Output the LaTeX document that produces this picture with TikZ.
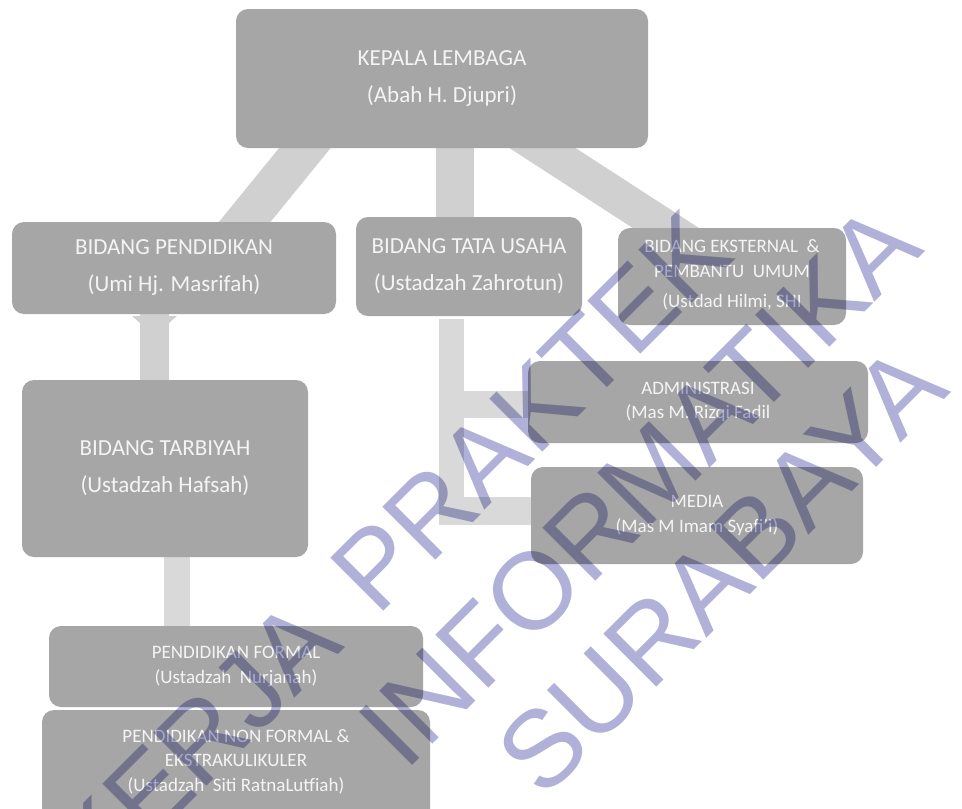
\documentclass[tikz,border=0pt]{standalone}
\usepackage{fontspec}
\setmainfont{Carlito}
\newfontfamily\wmfont{Liberation Sans}
\pgfdeclarelayer{bg}
\pgfdeclarelayer{bands}
\pgfdeclarelayer{wm}
\pgfsetlayers{bg,bands,main,wm}
\definecolor{boxgray}{HTML}{A6A6A6}
\definecolor{bandA}{HTML}{D0D0D0}
\definecolor{bandB}{HTML}{D9D9D9}
\definecolor{txtc}{HTML}{F4F4F4}
\definecolor{wmblue}{HTML}{B0B0D8}
\begin{document}
\begin{tikzpicture}[x=1pt,y=-1pt,
  box/.style={fill=boxgray, rounded corners=12pt, draw=none, text=txtc, align=center, inner sep=0pt},
  bigtxt/.style={font=\fontsize{23}{37}\selectfont},
  smalltxt/.style={font=\fontsize{19}{24.5}\selectfont},
  bandline/.style={line width=#1},
  wmtext/.style={text=wmblue, font=\wmfont\fontsize{109}{109}\selectfont, rotate=45, inner sep=0pt}
]
\path[use as bounding box] (0,0) rectangle (962,809);
\begin{pgfonlayer}{bg}
\fill[white] (0,0) rectangle (962,809);
\end{pgfonlayer}

% boxes
\node[box,bigtxt,minimum width=412pt,minimum height=139pt] (kepala) at (442,78.5) {KEPALA LEMBAGA\\(Abah H. Djupri)};
\node[box,bigtxt,minimum width=324pt,minimum height=92pt] (pend) at (174,268) {BIDANG PENDIDIKAN\\(Umi Hj. Masrifah)};
\node[box,bigtxt,minimum width=226pt,minimum height=99pt] (tata) at (469,266.5) {BIDANG TATA USAHA\\(Ustadzah Zahrotun)};
\node[box,minimum width=228pt,minimum height=97pt] (ekst) at (732,276.5) {};
\node[smalltxt,text=txtc,align=center,inner sep=0pt] (eksttxt) at (732,275) {BIDANG EKSTERNAL\ \ \&\\PEMBANTU\ \ UMUM\\[6pt](Ustdad Hilmi, SHI};
\node[box,bigtxt,minimum width=286pt,minimum height=177pt] (tarb) at (165,468.5) {BIDANG TARBIYAH\\(Ustadzah Hafsah)};
\node[box,smalltxt,minimum width=340pt,minimum height=82pt] (admin) at (698,402) {ADMINISTRASI\\(Mas M. Rizqi Fadil};
\node[box,smalltxt,minimum width=332pt,minimum height=97pt] (media) at (697,515.5) {MEDIA\\(Mas M Imam Syafi’i)};
\node[box,smalltxt,minimum width=374pt,minimum height=81pt] (formal) at (236,666.5) {PENDIDIKAN FORMAL\\(Ustadzah\ \ Nurjanah)};
\node[box,minimum width=388pt,minimum height=120pt] (nonformal) at (236,770) {};
\node[smalltxt,text=txtc,align=center,inner sep=0pt] (nonformaltxt) at (236,761.5) {PENDIDIKAN NON FORMAL \&\\EKSTRAKULIKULER\\(Ustadzah\ \ Siti RatnaLutfiah)};

% connector end points inside the boxes
\coordinate (kA) at (323.6,125);
\coordinate (pA) at (230,240);
\coordinate (kB) at (455,125);
\coordinate (tB) at (455,235);
\coordinate (kC) at (507,125);
\coordinate (eC) at (707.5,255);
\coordinate (pD) at (154.5,300);
\coordinate (tD) at (154.5,395);
\coordinate (tE) at (177,545);
\coordinate (fE) at (177,640);
\coordinate (tF) at (451.5,319);
\coordinate (jF) at (451.5,525);
\coordinate (jG) at (439,511);
\coordinate (mG) at (545,511);
\coordinate (jH) at (451.5,404.5);
\coordinate (aH) at (540,404.5);

\begin{pgfonlayer}{bands}
\draw[bandA,bandline=40pt] (kA) -- (pA);
\draw[bandA,bandline=38pt] (kB) -- (tB);
\draw[bandA,bandline=36pt] (kC) -- (eC);
\draw[bandA,bandline=29pt] (pD) -- (tD);
\fill[bandA] (132,316) -- (177,316) -- (169,323) -- (140,323) -- cycle;
\draw[bandB,bandline=26pt] (tE) -- (fE);
\draw[bandB,bandline=25pt] (tF) -- (jF);
\draw[bandB,bandline=28pt] (jG) -- (mG);
\draw[bandB,bandline=27pt] (jH) -- (aH);
\end{pgfonlayer}

% watermark
\begin{pgfonlayer}{wm}
\begin{scope}[blend mode=multiply]
\node[wmtext] (wm1a) at (196,745) {KERJA};
\node[wmtext] (wm1b) at (531,411) {PRAKTEK};
\node[wmtext] (wm2) at (639,485) {INFORMATIKA};
\node[wmtext] (wm3) at (721,570) {SURABAYA};
\end{scope}
\end{pgfonlayer}
\end{tikzpicture}
\end{document}
